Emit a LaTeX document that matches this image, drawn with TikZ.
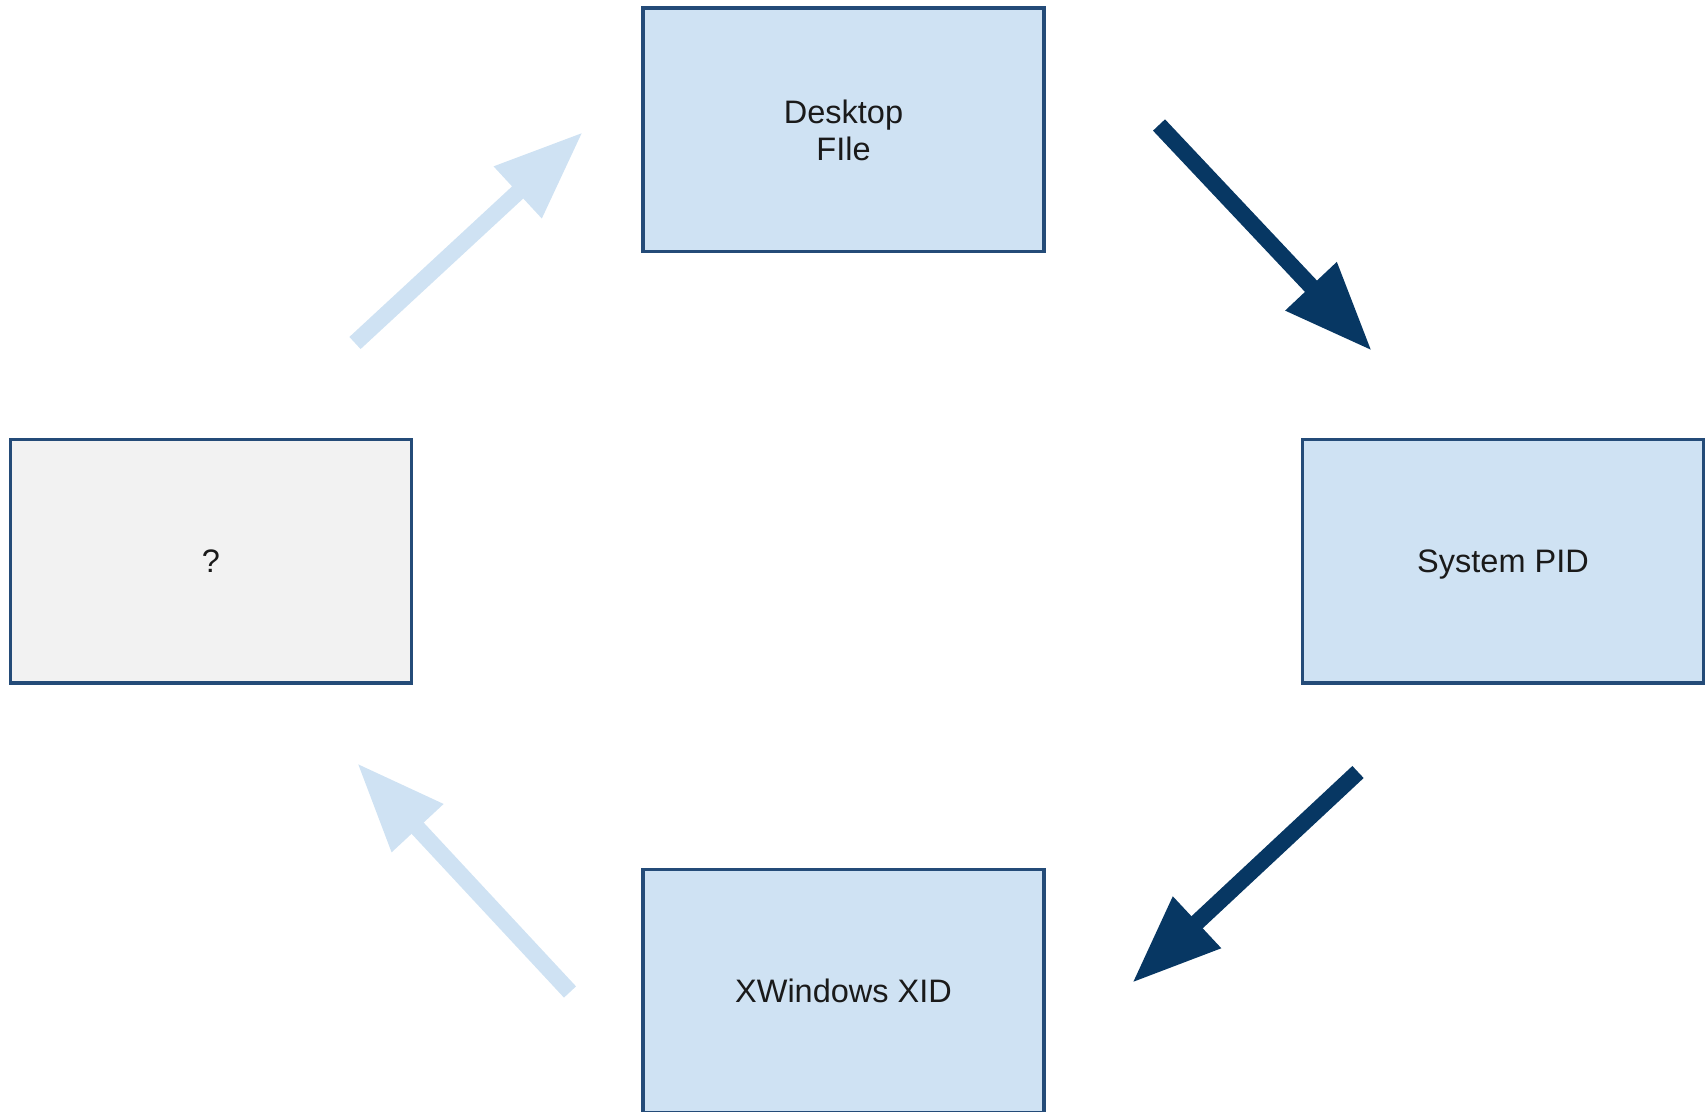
\documentclass[tikz,border=0pt]{standalone}
\usepackage{fontspec}
\setmainfont{Liberation Sans}
\usetikzlibrary{arrows.meta}
\definecolor{boxfill}{HTML}{CFE2F3}
\definecolor{greyfill}{HTML}{F2F2F2}
\definecolor{boxline}{HTML}{244B78}
\definecolor{darkarrow}{HTML}{073763}
\definecolor{textcol}{HTML}{1A1A1A}
\begin{document}
\begin{tikzpicture}[x=0.5pt,y=-0.5pt,
  box/.style={draw=boxline, line width=1.75pt, fill=boxfill,
    minimum width=200.5pt, minimum height=121.75pt, inner sep=0pt,
    text=textcol, font=\fontsize{16.25}{18.5}\selectfont, align=center},
  greybox/.style={box, fill=greyfill},
  darkarr/.style={draw=darkarrow, line width=8.25pt,
    -{Triangle[length=44.5pt,width=33pt]}},
  lightarr/.style={draw=boxfill, line width=8.25pt,
    -{Triangle[length=44.5pt,width=33pt]}}]
\useasboundingbox (0,0) rectangle (1706,1112);
\clip (0,0) rectangle (1706,1112);
% boxes
\node[box] (desk) at (843.5,130) {Desktop\\FIle};
\node[box, text depth=0pt] (pid) at (1503,561) {System PID};
\node[box] (xid) at (843.5,991.25) {XWindows XID};
\node[greybox] (unk) at (211,561) {?};
% arrow end points
\coordinate (a1s) at (1159,125);
\coordinate (a1e) at (1372,351);
\coordinate (a2s) at (1358,772);
\coordinate (a2e) at (1132,983);
\coordinate (a3s) at (570,992);
\coordinate (a3e) at (357,763);
\coordinate (a4s) at (355,343);
\coordinate (a4e) at (583,132);
% arrows
\draw[darkarr] (a1s) -- (a1e);
\draw[darkarr] (a2s) -- (a2e);
\draw[lightarr] (a3s) -- (a3e);
\draw[lightarr] (a4s) -- (a4e);
\end{tikzpicture}
\end{document}
